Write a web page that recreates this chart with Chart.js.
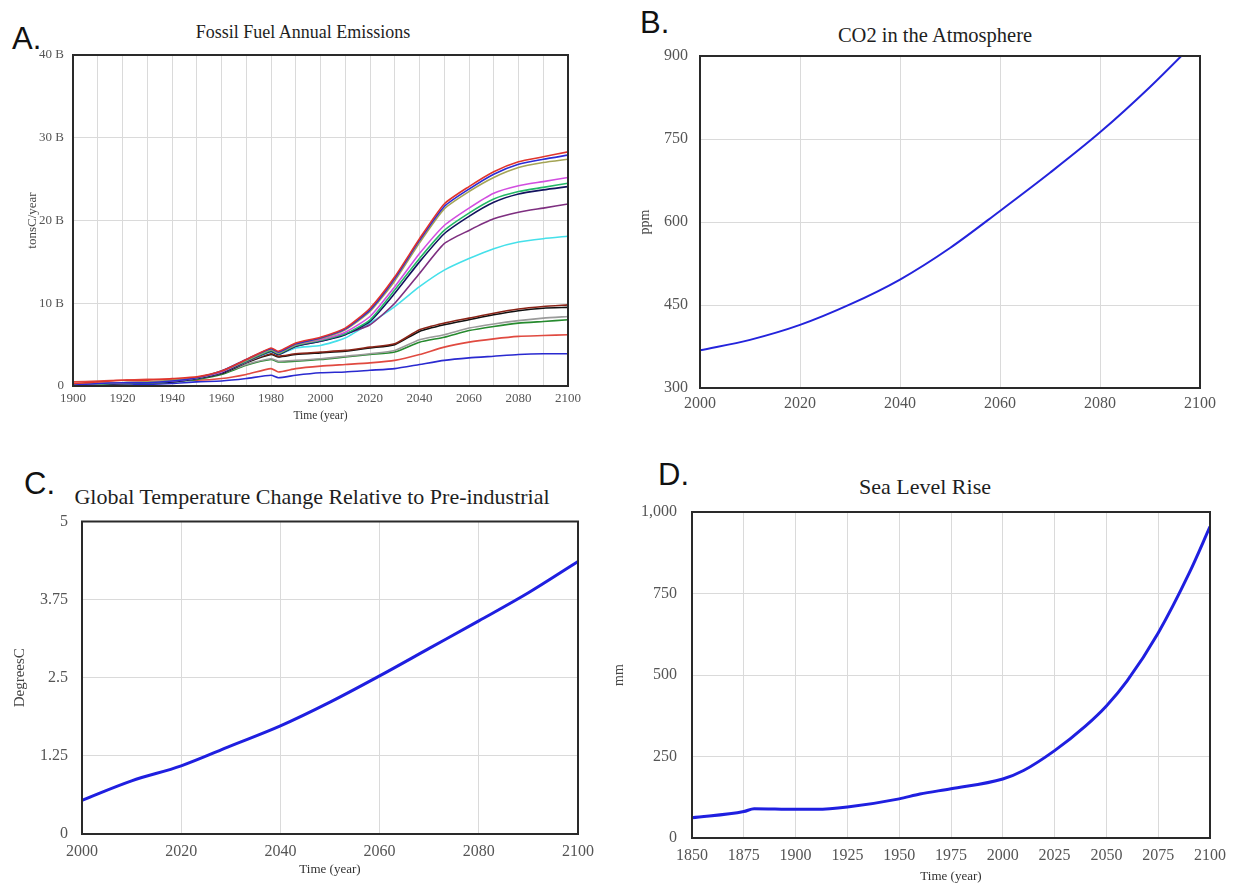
<!DOCTYPE html>
<html>
<head>
<meta charset="utf-8">
<title>Climate model panels</title>
<script src="https://cdn.jsdelivr.net/npm/chart.js@4.4.1/dist/chart.umd.min.js"></script>
<style>
  body { margin: 0; background: #fff; width: 1233px; height: 886px; overflow: hidden; position: relative; }
  canvas { position: absolute; }
  .tag { position: absolute; font-family: "Liberation Sans", Arial, sans-serif; font-size: 31px; line-height: 1; color: #111; }
  .ttl { position: absolute; font-family: "Liberation Serif", "Times New Roman", serif; color: #1e1e1e;
         white-space: nowrap; transform: translateX(-50%); line-height: 1.2; }
</style>
</head>
<body>
<div class="tag" style="left:12px;top:23px">A.</div>
<div class="tag" style="left:640px;top:7px">B.</div>
<div class="tag" style="left:24px;top:468px">C.</div>
<div class="tag" style="left:658px;top:459px">D.</div>

<div class="ttl" style="left:303px;top:22px;font-size:18px">Fossil Fuel Annual Emissions</div>
<div class="ttl" style="left:935px;top:23px;font-size:20.5px">CO2 in the Atmosphere</div>
<div class="ttl" style="left:312px;top:484px;font-size:22px">Global Temperature Change Relative to Pre-industrial</div>
<div class="ttl" style="left:925px;top:474px;font-size:22px">Sea Level Rise</div>

<canvas id="chart-a" width="606" height="430" style="left:0;top:0"></canvas>
<canvas id="chart-b" width="596" height="430" style="left:637px;top:0"></canvas>
<canvas id="chart-c" width="624" height="446" style="left:0;top:440px"></canvas>
<canvas id="chart-d" width="630" height="446" style="left:610px;top:440px"></canvas>

<script>
// --- A. fossil fuel emissions (billion tonsC/year) ---
const emissionYears = [1900, 1910, 1920, 1930, 1940, 1950, 1960, 1970, 1980, 1983, 1990, 2000, 2010, 2020, 2030, 2040, 2050, 2060, 2070, 2080, 2090, 2100];
const redTop     = [0.3, 0.5, 0.7, 0.7, 0.9, 1.1, 1.8, 3.2, 4.6, 4.2, 5.2, 5.9, 7.0, 9.4, 13.2, 17.8, 22.0, 24.1, 25.9, 27.1, 27.7, 28.3];
const blueTop    = [0.1, 0.3, 0.4, 0.4, 0.6, 1.0, 1.8, 3.2, 4.5, 4.1, 5.1, 5.8, 6.9, 9.2, 13.0, 17.6, 21.7, 23.8, 25.6, 26.8, 27.4, 27.9];
const oliveTop   = [0.2, 0.3, 0.4, 0.5, 0.7, 1.0, 1.8, 3.1, 4.4, 4.0, 5.0, 5.7, 6.8, 9.0, 12.7, 17.3, 21.4, 23.5, 25.2, 26.4, 27.0, 27.4];
const magentaMid = [0.2, 0.3, 0.4, 0.5, 0.6, 1.0, 1.7, 3.1, 4.4, 4.0, 5.0, 5.6, 6.5, 8.4, 12.0, 16.0, 19.4, 21.5, 23.3, 24.2, 24.7, 25.2];
const greenMid   = [0.1, 0.2, 0.4, 0.4, 0.6, 1.0, 1.7, 3.0, 4.3, 3.9, 4.9, 5.5, 6.3, 8.0, 11.6, 15.4, 18.8, 20.9, 22.6, 23.5, 24.0, 24.5];
const navyMid    = [0.0, 0.2, 0.3, 0.4, 0.5, 0.9, 1.6, 3.0, 4.2, 3.8, 4.8, 5.4, 6.2, 7.8, 11.2, 15.0, 18.4, 20.5, 22.2, 23.2, 23.7, 24.1];
const purpleMid  = [0.1, 0.2, 0.3, 0.4, 0.5, 0.9, 1.6, 2.9, 4.2, 3.8, 4.8, 5.4, 6.3, 7.4, 10.0, 13.6, 17.2, 18.8, 20.2, 21.0, 21.5, 22.0];
const cyanMid    = [0.1, 0.2, 0.3, 0.4, 0.5, 0.9, 1.6, 2.9, 4.1, 3.8, 4.6, 4.9, 5.8, 7.6, 9.6, 12.0, 14.0, 15.4, 16.6, 17.4, 17.8, 18.1];
const brownLow   = [0.2, 0.3, 0.4, 0.5, 0.6, 1.0, 1.6, 2.9, 3.9, 3.6, 3.9, 4.1, 4.3, 4.7, 5.1, 6.8, 7.6, 8.2, 8.8, 9.3, 9.6, 9.8];
const blackLow   = [0.1, 0.2, 0.3, 0.4, 0.5, 0.9, 1.5, 2.8, 3.8, 3.5, 3.8, 4.0, 4.2, 4.6, 5.0, 6.6, 7.4, 8.0, 8.6, 9.1, 9.4, 9.5];
const grayLow    = [0.1, 0.2, 0.3, 0.4, 0.5, 0.9, 1.5, 2.6, 3.3, 3.0, 3.1, 3.3, 3.6, 3.9, 4.3, 5.6, 6.2, 7.0, 7.5, 7.9, 8.2, 8.4];
const greenLow   = [0.1, 0.2, 0.3, 0.4, 0.5, 0.8, 1.4, 2.5, 3.2, 2.9, 3.0, 3.2, 3.5, 3.8, 4.1, 5.3, 5.9, 6.7, 7.2, 7.6, 7.8, 8.0];
const redLow     = [0.5, 0.6, 0.7, 0.8, 0.8, 0.7, 0.9, 1.4, 2.1, 1.7, 2.1, 2.4, 2.6, 2.8, 3.1, 3.8, 4.7, 5.3, 5.7, 6.0, 6.1, 6.2];
const blueLow    = [0.0, 0.1, 0.1, 0.2, 0.3, 0.5, 0.6, 0.9, 1.3, 1.0, 1.3, 1.6, 1.7, 1.9, 2.1, 2.6, 3.1, 3.4, 3.6, 3.8, 3.9, 3.9];

// --- B. CO2 (ppm) ---
const co2Years = [2000, 2010, 2020, 2030, 2040, 2050, 2060, 2070, 2080, 2090, 2100];
const co2Ppm   = [368, 387, 414, 451, 496, 553, 620, 689, 762, 844, 934];

// --- C. temperature change (DegreesC) ---
const tempYears = [2000, 2010, 2020, 2030, 2040, 2050, 2060, 2070, 2080, 2090, 2100];
const tempChange = [0.54, 0.85, 1.09, 1.41, 1.73, 2.11, 2.53, 2.97, 3.41, 3.86, 4.36];

// --- D. sea level (mm) ---
const seaYears = [1850, 1875, 1880, 1900, 1910, 1925, 1950, 1960, 1975, 2000, 2010, 2025, 2040, 2050, 2060, 2075, 2090, 2100];
const seaLevel = [62, 81, 90, 88, 88, 95, 120, 135, 151, 181, 207, 268, 344, 405, 482, 629, 813, 955];

const SERIF = '"Liberation Serif", "Times New Roman", serif';
const TICK_COLOR = '#555';
const GRID_COLOR = '#dadada';

// draws the dark box around the plot area
const framePlugin = {
    id: 'frame',
    afterDraw(chart) {
        const { ctx, chartArea: a } = chart;
        ctx.save();
        ctx.strokeStyle = '#2a2a2a';
        ctx.lineWidth = 2;
        ctx.strokeRect(a.left, a.top, a.right - a.left, a.bottom - a.top);
        ctx.restore();
    }
};

function toPoints(xs, ys) {
    return xs.map((x, i) => ({ x: x, y: ys[i] }));
}

function panelOptions(o) {
    return {
        responsive: false,
        animation: false,
        layout: { padding: { left: o.padLeft, right: o.padRight, top: o.padTop, bottom: 0 } },
        plugins: {
            legend: { display: false },
            tooltip: { enabled: false },
            title: { display: false }
        },
        scales: {
            x: {
                type: 'linear',
                min: o.xMin, max: o.xMax,
                afterFit: s => { s.height = o.xHeight; },
                border: { display: false },
                grid: { color: GRID_COLOR, drawTicks: false },
                ticks: {
                    stepSize: o.xStep, autoSkip: false, maxRotation: 0,
                    padding: o.xPad, color: TICK_COLOR,
                    font: { family: SERIF, size: o.tickSize },
                    callback: o.xLabel || (v => String(v))
                },
                title: {
                    display: !!o.xTitle, text: o.xTitle, color: '#333',
                    font: { family: SERIF, size: o.xTitleSize },
                    padding: { top: 0, bottom: o.xTitleBottom }
                }
            },
            y: {
                min: o.yMin, max: o.yMax,
                afterFit: s => { s.width = o.yWidth; },
                border: { display: false },
                grid: { color: GRID_COLOR, drawTicks: false },
                ticks: {
                    stepSize: o.yStep, autoSkip: false,
                    padding: o.yPad, color: TICK_COLOR,
                    font: { family: SERIF, size: o.tickSize },
                    callback: o.yLabel
                },
                title: {
                    display: true, text: o.yTitle, color: '#444',
                    font: { family: SERIF, size: o.yTitleSize },
                    padding: { top: 0, bottom: 0 }
                }
            }
        }
    };
}

function initCharts() {
    const emissionSeries = [
        [redTop, '#e0342c'], [blueTop, '#2b2bd6'], [oliveTop, '#a4a455'],
        [magentaMid, '#d24ee0'], [greenMid, '#22b866'], [navyMid, '#12125e'],
        [purpleMid, '#7e2f80'], [cyanMid, '#45e0ea'],
        [brownLow, '#8a2418'], [blackLow, '#111111'], [grayLow, '#9a9a9a'],
        [greenLow, '#268a2e'], [redLow, '#e04a40'], [blueLow, '#2a2ad0']
    ];

    new Chart(document.getElementById('chart-a'), {
        type: 'line',
        data: {
            datasets: emissionSeries.map(([vals, color]) => ({
                data: toPoints(emissionYears, vals),
                borderColor: color,
                borderWidth: 1.6,
                pointRadius: 0,
                tension: 0.2
            }))
        },
        options: panelOptions({
            padLeft: 25, padRight: 38, padTop: 55,
            xMin: 1900, xMax: 2100, xStep: 10, xHeight: 44, xPad: 5,
            xLabel: v => (v % 20 === 0 ? String(v) : ''),
            xTitle: 'Time (year)', xTitleSize: 11.5, xTitleBottom: 7,
            yMin: 0, yMax: 40, yStep: 10, yWidth: 48, yPad: 9,
            yLabel: v => (v === 0 ? '0' : v + ' B'),
            yTitle: 'tonsC/year', yTitleSize: 13,
            tickSize: 13
        }),
        plugins: [framePlugin]
    });

    new Chart(document.getElementById('chart-b'), {
        type: 'line',
        data: {
            datasets: [{
                data: toPoints(co2Years, co2Ppm),
                borderColor: '#2323dc',
                borderWidth: 2,
                pointRadius: 0,
                cubicInterpolationMode: 'monotone'
            }]
        },
        options: panelOptions({
            padLeft: 0, padRight: 33, padTop: 56,
            xMin: 2000, xMax: 2100, xStep: 20, xHeight: 42, xPad: 6,
            xTitle: '', xTitleSize: 12, xTitleBottom: 0,
            yMin: 300, yMax: 900, yStep: 150, yWidth: 63, yPad: 12,
            yLabel: v => String(v),
            yTitle: 'ppm', yTitleSize: 14,
            tickSize: 16
        }),
        plugins: [framePlugin]
    });

    new Chart(document.getElementById('chart-c'), {
        type: 'line',
        data: {
            datasets: [{
                data: toPoints(tempYears, tempChange),
                borderColor: '#1f1fe0',
                borderWidth: 3,
                pointRadius: 0,
                cubicInterpolationMode: 'monotone'
            }]
        },
        options: panelOptions({
            padLeft: 11, padRight: 46, padTop: 81.5,
            xMin: 2000, xMax: 2100, xStep: 20, xHeight: 52, xPad: 8,
            xTitle: 'Time (year)', xTitleSize: 13, xTitleBottom: 9,
            yMin: 0, yMax: 5, yStep: 1.25, yWidth: 71, yPad: 14,
            yLabel: v => String(v),
            yTitle: 'DegreesC', yTitleSize: 15,
            tickSize: 16
        }),
        plugins: [framePlugin]
    });

    new Chart(document.getElementById('chart-d'), {
        type: 'line',
        data: {
            datasets: [{
                data: toPoints(seaYears, seaLevel),
                borderColor: '#1f1fe0',
                borderWidth: 3,
                pointRadius: 0,
                cubicInterpolationMode: 'monotone'
            }]
        },
        options: panelOptions({
            padLeft: 1, padRight: 30, padTop: 72,
            xMin: 1850, xMax: 2100, xStep: 25, xHeight: 48, xPad: 8.5,
            xTitle: 'Time (year)', xTitleSize: 13, xTitleBottom: 2,
            yMin: 0, yMax: 1000, yStep: 250, yWidth: 81, yPad: 15,
            yLabel: v => v.toLocaleString('en-US'),
            yTitle: 'mm', yTitleSize: 14,
            tickSize: 16
        }),
        plugins: [framePlugin]
    });
}

window.onload = function () {
    initCharts();
};
</script>
</body>
</html>
